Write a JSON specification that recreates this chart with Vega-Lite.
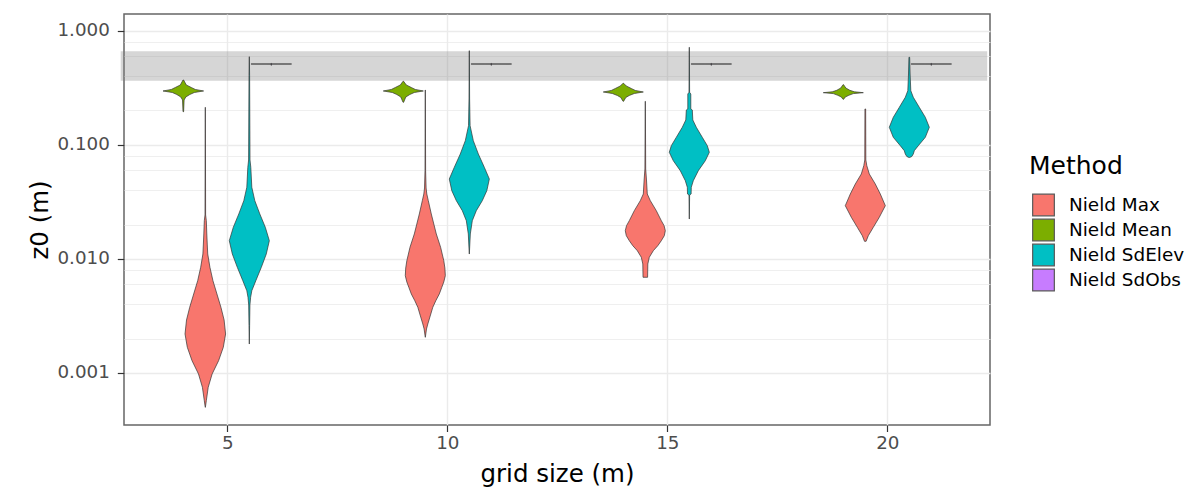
{
 "$schema": "https://vega.github.io/schema/vega-lite/v6.json",
 "width": 866,
 "height": 411,
 "autosize": {"type": "none"},
 "padding": {"left": 124, "top": 14, "right": 213, "bottom": 67},
 "background": "white",
 "config": {
  "view": {"stroke": "#666666", "strokeWidth": 1.5},
  "font": "DejaVu Sans"
 },
 "layer": [
  {
   "data": {"values": [{"xmin": 2.577, "xmax": 22.27, "zlo": 0.3646, "zhi": 0.66}]},
   "mark": {"type": "rect", "fill": "#808080", "opacity": 0.32},
   "encoding": {
    "x": {"field": "xmin", "type": "quantitative", "title": "grid size (m)",
     "scale": {"domain": [2.652, 22.334], "nice": false, "zero": false},
     "axis": {"title": "grid size (m)", "values": [5, 10, 15, 20], "format": "d", "domain": false,
      "tickColor": "#333333", "tickSize": 6.5, "tickWidth": 1.2,
      "labelFontSize": 18.3, "labelColor": "#4D4D4D", "labelPadding": 3,
      "gridColor": "#EBEBEB", "gridWidth": 1.4,
      "titleFontSize": 24.5, "titleFontWeight": "normal", "titleColor": "#000000",
      "titleY": 56, "titleBaseline": "alphabetic"}},
    "x2": {"field": "xmax"},
    "y": {"field": "zlo", "type": "quantitative", "title": "z0 (m)",
     "scale": {"type": "log", "domain": [0.00035, 1.4006], "nice": false},
     "axis": {"title": "z0 (m)",
      "values": [0.001, 0.002, 0.004, 0.006, 0.008, 0.01, 0.02, 0.04, 0.06, 0.08, 0.1, 0.2, 0.4, 0.6, 0.8, 1],
      "labelExpr": "indexof([0.001,0.01,0.1,1], datum.value) >= 0 ? format(datum.value, '.3f') : ''",
      "labelOverlap": false, "domain": false,
      "tickColor": "#333333", "tickSize": 6.7, "tickWidth": 1.2,
      "tickOpacity": {"condition": {"test": "indexof([0.001,0.01,0.1,1], datum.value) >= 0", "value": 1}, "value": 0},
      "gridColor": "#EBEBEB",
      "gridWidth": {"condition": {"test": "indexof([0.001,0.01,0.1,1], datum.value) >= 0", "value": 1.4}, "value": 0.8},
      "labelFontSize": 18.3, "labelColor": "#4D4D4D", "labelPadding": 8,
      "titleFontSize": 24.5, "titleFontWeight": "normal", "titleColor": "#000000",
      "titleX": -77, "titleY": 205.5, "titleBaseline": "alphabetic"}},
    "y2": {"field": "zhi"}
   }
  },
  {
   "data": {"values": [
    {"method": "Nield Mean", "grid": 5, "z0": 0.3698, "lo": 3.993, "hi": 4.007},
    {"method": "Nield Mean", "grid": 5, "z0": 0.3343, "lo": 3.932, "hi": 4.068},
    {"method": "Nield Mean", "grid": 5, "z0": 0.3178, "lo": 3.818, "hi": 4.182},
    {"method": "Nield Mean", "grid": 5, "z0": 0.3053, "lo": 3.727, "hi": 4.273},
    {"method": "Nield Mean", "grid": 5, "z0": 0.2962, "lo": 3.539, "hi": 4.461},
    {"method": "Nield Mean", "grid": 5, "z0": 0.2873, "lo": 3.75, "hi": 4.25},
    {"method": "Nield Mean", "grid": 5, "z0": 0.2759, "lo": 3.852, "hi": 4.148},
    {"method": "Nield Mean", "grid": 5, "z0": 0.2624, "lo": 3.943, "hi": 4.057},
    {"method": "Nield Mean", "grid": 5, "z0": 0.2470, "lo": 3.982, "hi": 4.018},
    {"method": "Nield Mean", "grid": 5, "z0": 0.1950, "lo": 3.993, "hi": 4.007},

    {"method": "Nield Mean", "grid": 10, "z0": 0.3602, "lo": 8.993, "hi": 9.007},
    {"method": "Nield Mean", "grid": 10, "z0": 0.3343, "lo": 8.932, "hi": 9.068},
    {"method": "Nield Mean", "grid": 10, "z0": 0.3178, "lo": 8.818, "hi": 9.182},
    {"method": "Nield Mean", "grid": 10, "z0": 0.3053, "lo": 8.727, "hi": 9.273},
    {"method": "Nield Mean", "grid": 10, "z0": 0.2962, "lo": 8.545, "hi": 9.455},
    {"method": "Nield Mean", "grid": 10, "z0": 0.2873, "lo": 8.75, "hi": 9.25},
    {"method": "Nield Mean", "grid": 10, "z0": 0.2759, "lo": 8.852, "hi": 9.148},
    {"method": "Nield Mean", "grid": 10, "z0": 0.2624, "lo": 8.943, "hi": 9.057},
    {"method": "Nield Mean", "grid": 10, "z0": 0.2358, "lo": 8.993, "hi": 9.007},

    {"method": "Nield Mean", "grid": 15, "z0": 0.3460, "lo": 13.993, "hi": 14.007},
    {"method": "Nield Mean", "grid": 15, "z0": 0.3276, "lo": 13.932, "hi": 14.068},
    {"method": "Nield Mean", "grid": 15, "z0": 0.3115, "lo": 13.818, "hi": 14.182},
    {"method": "Nield Mean", "grid": 15, "z0": 0.2992, "lo": 13.727, "hi": 14.273},
    {"method": "Nield Mean", "grid": 15, "z0": 0.2902, "lo": 13.545, "hi": 14.455},
    {"method": "Nield Mean", "grid": 15, "z0": 0.2816, "lo": 13.75, "hi": 14.25},
    {"method": "Nield Mean", "grid": 15, "z0": 0.2705, "lo": 13.864, "hi": 14.136},
    {"method": "Nield Mean", "grid": 15, "z0": 0.2598, "lo": 13.943, "hi": 14.057},
    {"method": "Nield Mean", "grid": 15, "z0": 0.2406, "lo": 13.993, "hi": 14.007},

    {"method": "Nield Mean", "grid": 20, "z0": 0.3363, "lo": 18.993, "hi": 19.007},
    {"method": "Nield Mean", "grid": 20, "z0": 0.3146, "lo": 18.943, "hi": 19.057},
    {"method": "Nield Mean", "grid": 20, "z0": 0.3004, "lo": 18.852, "hi": 19.148},
    {"method": "Nield Mean", "grid": 20, "z0": 0.2914, "lo": 18.75, "hi": 19.25},
    {"method": "Nield Mean", "grid": 20, "z0": 0.2862, "lo": 18.545, "hi": 19.455},
    {"method": "Nield Mean", "grid": 20, "z0": 0.2810, "lo": 18.773, "hi": 19.227},
    {"method": "Nield Mean", "grid": 20, "z0": 0.2715, "lo": 18.875, "hi": 19.125},
    {"method": "Nield Mean", "grid": 20, "z0": 0.2624, "lo": 18.955, "hi": 19.045},
    {"method": "Nield Mean", "grid": 20, "z0": 0.2505, "lo": 18.993, "hi": 19.007},

    {"method": "Nield Max", "grid": 5, "z0": 0.2131, "lo": 4.499, "hi": 4.501},
    {"method": "Nield Max", "grid": 5, "z0": 0.02425, "lo": 4.493, "hi": 4.507},
    {"method": "Nield Max", "grid": 5, "z0": 0.02162, "lo": 4.477, "hi": 4.523},
    {"method": "Nield Max", "grid": 5, "z0": 0.01653, "lo": 4.466, "hi": 4.534},
    {"method": "Nield Max", "grid": 5, "z0": 0.01324, "lo": 4.455, "hi": 4.545},
    {"method": "Nield Max", "grid": 5, "z0": 0.01104, "lo": 4.445, "hi": 4.555},
    {"method": "Nield Max", "grid": 5, "z0": 0.008441, "lo": 4.395, "hi": 4.605},
    {"method": "Nield Max", "grid": 5, "z0": 0.006441, "lo": 4.327, "hi": 4.673},
    {"method": "Nield Max", "grid": 5, "z0": 0.004925, "lo": 4.236, "hi": 4.764},
    {"method": "Nield Max", "grid": 5, "z0": 0.003765, "lo": 4.145, "hi": 4.855},
    {"method": "Nield Max", "grid": 5, "z0": 0.002914, "lo": 4.073, "hi": 4.927},
    {"method": "Nield Max", "grid": 5, "z0": 0.002197, "lo": 4.039, "hi": 4.961},
    {"method": "Nield Max", "grid": 5, "z0": 0.001680, "lo": 4.091, "hi": 4.909},
    {"method": "Nield Max", "grid": 5, "z0": 0.001282, "lo": 4.198, "hi": 4.802},
    {"method": "Nield Max", "grid": 5, "z0": 0.000980, "lo": 4.345, "hi": 4.655},
    {"method": "Nield Max", "grid": 5, "z0": 0.000749, "lo": 4.434, "hi": 4.566},
    {"method": "Nield Max", "grid": 5, "z0": 0.000572, "lo": 4.477, "hi": 4.523},
    {"method": "Nield Max", "grid": 5, "z0": 0.000500, "lo": 4.498, "hi": 4.502},

    {"method": "Nield SdElev", "grid": 5, "z0": 0.5918, "lo": 5.499, "hi": 5.501},
    {"method": "Nield SdElev", "grid": 5, "z0": 0.4033, "lo": 5.493, "hi": 5.507},
    {"method": "Nield SdElev", "grid": 5, "z0": 0.07358, "lo": 5.484, "hi": 5.516},
    {"method": "Nield SdElev", "grid": 5, "z0": 0.06351, "lo": 5.466, "hi": 5.534},
    {"method": "Nield SdElev", "grid": 5, "z0": 0.04242, "lo": 5.443, "hi": 5.557},
    {"method": "Nield SdElev", "grid": 5, "z0": 0.03237, "lo": 5.375, "hi": 5.625},
    {"method": "Nield SdElev", "grid": 5, "z0": 0.02475, "lo": 5.261, "hi": 5.739},
    {"method": "Nield SdElev", "grid": 5, "z0": 0.01892, "lo": 5.136, "hi": 5.864},
    {"method": "Nield SdElev", "grid": 5, "z0": 0.01444, "lo": 5.045, "hi": 5.955},
    {"method": "Nield SdElev", "grid": 5, "z0": 0.01104, "lo": 5.114, "hi": 5.886},
    {"method": "Nield SdElev", "grid": 5, "z0": 0.008441, "lo": 5.227, "hi": 5.773},
    {"method": "Nield SdElev", "grid": 5, "z0": 0.006441, "lo": 5.352, "hi": 5.648},
    {"method": "Nield SdElev", "grid": 5, "z0": 0.005264, "lo": 5.443, "hi": 5.557},
    {"method": "Nield SdElev", "grid": 5, "z0": 0.004608, "lo": 5.47, "hi": 5.53},
    {"method": "Nield SdElev", "grid": 5, "z0": 0.003945, "lo": 5.486, "hi": 5.514},
    {"method": "Nield SdElev", "grid": 5, "z0": 0.002598, "lo": 5.493, "hi": 5.507},
    {"method": "Nield SdElev", "grid": 5, "z0": 0.001795, "lo": 5.499, "hi": 5.501},

    {"method": "Nield Max", "grid": 10, "z0": 0.3022, "lo": 9.499, "hi": 9.501},
    {"method": "Nield Max", "grid": 10, "z0": 0.05929, "lo": 9.493, "hi": 9.507},
    {"method": "Nield Max", "grid": 10, "z0": 0.04182, "lo": 9.482, "hi": 9.518},
    {"method": "Nield Max", "grid": 10, "z0": 0.03705, "lo": 9.466, "hi": 9.534},
    {"method": "Nield Max", "grid": 10, "z0": 0.03237, "lo": 9.432, "hi": 9.568},
    {"method": "Nield Max", "grid": 10, "z0": 0.02475, "lo": 9.364, "hi": 9.636},
    {"method": "Nield Max", "grid": 10, "z0": 0.02022, "lo": 9.307, "hi": 9.693},
    {"method": "Nield Max", "grid": 10, "z0": 0.01653, "lo": 9.25, "hi": 9.75},
    {"method": "Nield Max", "grid": 10, "z0": 0.01264, "lo": 9.152, "hi": 9.848},
    {"method": "Nield Max", "grid": 10, "z0": 0.009643, "lo": 9.08, "hi": 9.92},
    {"method": "Nield Max", "grid": 10, "z0": 0.008322, "lo": 9.055, "hi": 9.945},
    {"method": "Nield Max", "grid": 10, "z0": 0.007125, "lo": 9.045, "hi": 9.955},
    {"method": "Nield Max", "grid": 10, "z0": 0.006274, "lo": 9.08, "hi": 9.92},
    {"method": "Nield Max", "grid": 10, "z0": 0.005638, "lo": 9.125, "hi": 9.875},
    {"method": "Nield Max", "grid": 10, "z0": 0.004925, "lo": 9.182, "hi": 9.818},
    {"method": "Nield Max", "grid": 10, "z0": 0.004302, "lo": 9.261, "hi": 9.739},
    {"method": "Nield Max", "grid": 10, "z0": 0.003765, "lo": 9.33, "hi": 9.67},
    {"method": "Nield Max", "grid": 10, "z0": 0.003289, "lo": 9.375, "hi": 9.625},
    {"method": "Nield Max", "grid": 10, "z0": 0.002688, "lo": 9.443, "hi": 9.557},
    {"method": "Nield Max", "grid": 10, "z0": 0.002430, "lo": 9.473, "hi": 9.527},
    {"method": "Nield Max", "grid": 10, "z0": 0.002055, "lo": 9.499, "hi": 9.501},

    {"method": "Nield SdElev", "grid": 10, "z0": 0.6679, "lo": 10.499, "hi": 10.501},
    {"method": "Nield SdElev", "grid": 10, "z0": 0.2520, "lo": 10.493, "hi": 10.507},
    {"method": "Nield SdElev", "grid": 10, "z0": 0.1470, "lo": 10.482, "hi": 10.518},
    {"method": "Nield SdElev", "grid": 10, "z0": 0.1086, "lo": 10.409, "hi": 10.591},
    {"method": "Nield SdElev", "grid": 10, "z0": 0.08306, "lo": 10.295, "hi": 10.705},
    {"method": "Nield SdElev", "grid": 10, "z0": 0.06351, "lo": 10.159, "hi": 10.841},
    {"method": "Nield SdElev", "grid": 10, "z0": 0.05015, "lo": 10.045, "hi": 10.955},
    {"method": "Nield SdElev", "grid": 10, "z0": 0.03960, "lo": 10.102, "hi": 10.898},
    {"method": "Nield SdElev", "grid": 10, "z0": 0.03237, "lo": 10.205, "hi": 10.795},
    {"method": "Nield SdElev", "grid": 10, "z0": 0.02645, "lo": 10.341, "hi": 10.659},
    {"method": "Nield SdElev", "grid": 10, "z0": 0.02162, "lo": 10.432, "hi": 10.568},
    {"method": "Nield SdElev", "grid": 10, "z0": 0.01653, "lo": 10.477, "hi": 10.523},
    {"method": "Nield SdElev", "grid": 10, "z0": 0.01104, "lo": 10.499, "hi": 10.501},

    {"method": "Nield Max", "grid": 15, "z0": 0.2406, "lo": 14.499, "hi": 14.501},
    {"method": "Nield Max", "grid": 15, "z0": 0.06136, "lo": 14.491, "hi": 14.509},
    {"method": "Nield Max", "grid": 15, "z0": 0.04915, "lo": 14.473, "hi": 14.527},
    {"method": "Nield Max", "grid": 15, "z0": 0.03705, "lo": 14.455, "hi": 14.545},
    {"method": "Nield Max", "grid": 15, "z0": 0.03237, "lo": 14.386, "hi": 14.614},
    {"method": "Nield Max", "grid": 15, "z0": 0.02645, "lo": 14.25, "hi": 14.75},
    {"method": "Nield Max", "grid": 15, "z0": 0.02162, "lo": 14.136, "hi": 14.864},
    {"method": "Nield Max", "grid": 15, "z0": 0.01954, "lo": 14.073, "hi": 14.927},
    {"method": "Nield Max", "grid": 15, "z0": 0.01767, "lo": 14.045, "hi": 14.955},
    {"method": "Nield Max", "grid": 15, "z0": 0.01597, "lo": 14.068, "hi": 14.932},
    {"method": "Nield Max", "grid": 15, "z0": 0.01444, "lo": 14.136, "hi": 14.864},
    {"method": "Nield Max", "grid": 15, "z0": 0.01305, "lo": 14.216, "hi": 14.784},
    {"method": "Nield Max", "grid": 15, "z0": 0.01180, "lo": 14.318, "hi": 14.682},
    {"method": "Nield Max", "grid": 15, "z0": 0.01033, "lo": 14.409, "hi": 14.591},
    {"method": "Nield Max", "grid": 15, "z0": 0.009022, "lo": 14.443, "hi": 14.557},
    {"method": "Nield Max", "grid": 15, "z0": 0.006898, "lo": 14.448, "hi": 14.552},

    {"method": "Nield SdElev", "grid": 15, "z0": 0.7153, "lo": 15.499, "hi": 15.501},
    {"method": "Nield SdElev", "grid": 15, "z0": 0.2885, "lo": 15.493, "hi": 15.507},
    {"method": "Nield SdElev", "grid": 15, "z0": 0.2787, "lo": 15.466, "hi": 15.534},
    {"method": "Nield SdElev", "grid": 15, "z0": 0.2060, "lo": 15.466, "hi": 15.534},
    {"method": "Nield SdElev", "grid": 15, "z0": 0.2018, "lo": 15.432, "hi": 15.568},
    {"method": "Nield SdElev", "grid": 15, "z0": 0.1650, "lo": 15.42, "hi": 15.58},
    {"method": "Nield SdElev", "grid": 15, "z0": 0.1424, "lo": 15.341, "hi": 15.659},
    {"method": "Nield SdElev", "grid": 15, "z0": 0.1163, "lo": 15.205, "hi": 15.795},
    {"method": "Nield SdElev", "grid": 15, "z0": 0.09821, "lo": 15.091, "hi": 15.909},
    {"method": "Nield SdElev", "grid": 15, "z0": 0.08596, "lo": 15.045, "hi": 15.955},
    {"method": "Nield SdElev", "grid": 15, "z0": 0.07255, "lo": 15.136, "hi": 15.864},
    {"method": "Nield SdElev", "grid": 15, "z0": 0.05929, "lo": 15.295, "hi": 15.705},
    {"method": "Nield SdElev", "grid": 15, "z0": 0.04846, "lo": 15.409, "hi": 15.591},
    {"method": "Nield SdElev", "grid": 15, "z0": 0.04242, "lo": 15.455, "hi": 15.545},
    {"method": "Nield SdElev", "grid": 15, "z0": 0.03705, "lo": 15.459, "hi": 15.541},
    {"method": "Nield SdElev", "grid": 15, "z0": 0.03631, "lo": 15.493, "hi": 15.507},
    {"method": "Nield SdElev", "grid": 15, "z0": 0.02237, "lo": 15.499, "hi": 15.501},

    {"method": "Nield Max", "grid": 20, "z0": 0.2060, "lo": 19.492, "hi": 19.508},
    {"method": "Nield Max", "grid": 20, "z0": 0.07358, "lo": 19.488, "hi": 19.512},
    {"method": "Nield Max", "grid": 20, "z0": 0.06559, "lo": 19.466, "hi": 19.534},
    {"method": "Nield Max", "grid": 20, "z0": 0.05547, "lo": 19.409, "hi": 19.591},
    {"method": "Nield Max", "grid": 20, "z0": 0.04533, "lo": 19.273, "hi": 19.727},
    {"method": "Nield Max", "grid": 20, "z0": 0.03705, "lo": 19.159, "hi": 19.841},
    {"method": "Nield Max", "grid": 20, "z0": 0.02926, "lo": 19.045, "hi": 19.955},
    {"method": "Nield Max", "grid": 20, "z0": 0.02315, "lo": 19.182, "hi": 19.818},
    {"method": "Nield Max", "grid": 20, "z0": 0.01892, "lo": 19.318, "hi": 19.682},
    {"method": "Nield Max", "grid": 20, "z0": 0.01597, "lo": 19.432, "hi": 19.568},
    {"method": "Nield Max", "grid": 20, "z0": 0.01426, "lo": 19.482, "hi": 19.518},

    {"method": "Nield SdElev", "grid": 20, "z0": 0.5846, "lo": 20.492, "hi": 20.508},
    {"method": "Nield SdElev", "grid": 20, "z0": 0.4174, "lo": 20.482, "hi": 20.518},
    {"method": "Nield SdElev", "grid": 20, "z0": 0.2980, "lo": 20.466, "hi": 20.534},
    {"method": "Nield SdElev", "grid": 20, "z0": 0.2608, "lo": 20.409, "hi": 20.591},
    {"method": "Nield SdElev", "grid": 20, "z0": 0.2131, "lo": 20.273, "hi": 20.727},
    {"method": "Nield SdElev", "grid": 20, "z0": 0.1742, "lo": 20.136, "hi": 20.864},
    {"method": "Nield SdElev", "grid": 20, "z0": 0.1424, "lo": 20.045, "hi": 20.955},
    {"method": "Nield SdElev", "grid": 20, "z0": 0.1163, "lo": 20.136, "hi": 20.864},
    {"method": "Nield SdElev", "grid": 20, "z0": 0.09821, "lo": 20.295, "hi": 20.705},
    {"method": "Nield SdElev", "grid": 20, "z0": 0.08878, "lo": 20.386, "hi": 20.614},
    {"method": "Nield SdElev", "grid": 20, "z0": 0.08306, "lo": 20.409, "hi": 20.591},
    {"method": "Nield SdElev", "grid": 20, "z0": 0.07897, "lo": 20.443, "hi": 20.557},
    {"method": "Nield SdElev", "grid": 20, "z0": 0.07739, "lo": 20.493, "hi": 20.507},

    {"method": "Nield SdObs", "grid": 5, "z0": 0.518, "lo": 5.997, "hi": 6.003},
    {"method": "Nield SdObs", "grid": 5, "z0": 0.5115, "lo": 5.997, "hi": 6.003},
    {"method": "Nield SdObs", "grid": 5, "z0": 0.5112, "lo": 5.54, "hi": 6.46},
    {"method": "Nield SdObs", "grid": 5, "z0": 0.5098, "lo": 5.54, "hi": 6.46},
    {"method": "Nield SdObs", "grid": 5, "z0": 0.5095, "lo": 5.997, "hi": 6.003},
    {"method": "Nield SdObs", "grid": 5, "z0": 0.497, "lo": 5.997, "hi": 6.003},

    {"method": "Nield SdObs", "grid": 10, "z0": 0.518, "lo": 10.997, "hi": 11.003},
    {"method": "Nield SdObs", "grid": 10, "z0": 0.5115, "lo": 10.997, "hi": 11.003},
    {"method": "Nield SdObs", "grid": 10, "z0": 0.5112, "lo": 10.54, "hi": 11.46},
    {"method": "Nield SdObs", "grid": 10, "z0": 0.5098, "lo": 10.54, "hi": 11.46},
    {"method": "Nield SdObs", "grid": 10, "z0": 0.5095, "lo": 10.997, "hi": 11.003},
    {"method": "Nield SdObs", "grid": 10, "z0": 0.497, "lo": 10.997, "hi": 11.003},

    {"method": "Nield SdObs", "grid": 15, "z0": 0.518, "lo": 15.997, "hi": 16.003},
    {"method": "Nield SdObs", "grid": 15, "z0": 0.5115, "lo": 15.997, "hi": 16.003},
    {"method": "Nield SdObs", "grid": 15, "z0": 0.5112, "lo": 15.54, "hi": 16.46},
    {"method": "Nield SdObs", "grid": 15, "z0": 0.5098, "lo": 15.54, "hi": 16.46},
    {"method": "Nield SdObs", "grid": 15, "z0": 0.5095, "lo": 15.997, "hi": 16.003},
    {"method": "Nield SdObs", "grid": 15, "z0": 0.497, "lo": 15.997, "hi": 16.003},

    {"method": "Nield SdObs", "grid": 20, "z0": 0.518, "lo": 20.997, "hi": 21.003},
    {"method": "Nield SdObs", "grid": 20, "z0": 0.5115, "lo": 20.997, "hi": 21.003},
    {"method": "Nield SdObs", "grid": 20, "z0": 0.5112, "lo": 20.54, "hi": 21.46},
    {"method": "Nield SdObs", "grid": 20, "z0": 0.5098, "lo": 20.54, "hi": 21.46},
    {"method": "Nield SdObs", "grid": 20, "z0": 0.5095, "lo": 20.997, "hi": 21.003},
    {"method": "Nield SdObs", "grid": 20, "z0": 0.497, "lo": 20.997, "hi": 21.003}
   ]},
   "mark": {"type": "area", "orient": "horizontal", "stroke": "#333333", "strokeWidth": 0.7, "fillOpacity": 1},
   "encoding": {
    "y": {"field": "z0", "type": "quantitative", "title": "z0 (m)"},
    "x": {"field": "lo", "type": "quantitative", "stack": null, "title": "grid size (m)"},
    "x2": {"field": "hi"},
    "color": {"field": "method", "type": "nominal",
     "scale": {"domain": ["Nield Max", "Nield Mean", "Nield SdElev", "Nield SdObs"],
      "range": ["#F8766D", "#7CAE00", "#00BFC4", "#C77CFF"]},
     "legend": {"title": "Method", "orient": "none", "legendX": 905, "legendY": 139.5,
      "titleFontSize": 25, "titleFontWeight": "normal", "titleColor": "#000000", "titlePadding": 15,
      "labelFontSize": 18.4, "labelColor": "#000000", "labelLimit": 300,
      "symbolType": "square", "symbolSize": 470, "symbolStrokeColor": "#595959", "symbolStrokeWidth": 1.2,
      "symbolOpacity": 1, "symbolOffset": 3, "labelOffset": 14, "rowPadding": -3.1}},
    "detail": {"field": "grid", "type": "nominal"}
   }
  }
 ]
}
